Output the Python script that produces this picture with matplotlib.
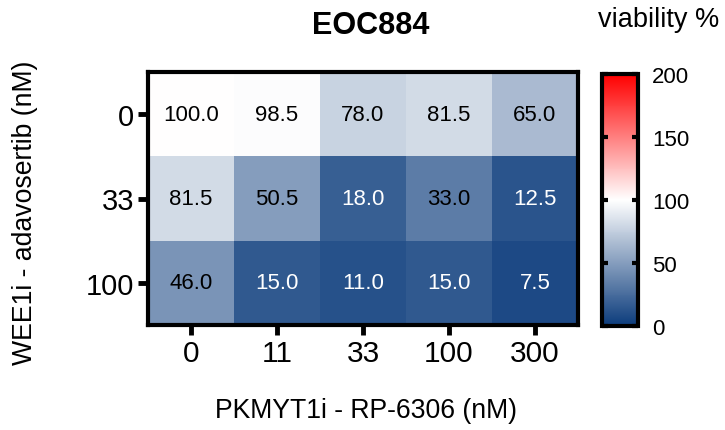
import matplotlib
matplotlib.use("Agg")
import matplotlib.pyplot as plt
import numpy as np
from matplotlib.colors import LinearSegmentedColormap

plt.rcParams['font.family'] = ['Liberation Sans', 'DejaVu Sans']

title = "EOC884"
x_labels = ["0", "11", "33", "100", "300"]
y_labels = ["0", "33", "100"]
values = np.array([
    [100.0, 98.5, 78.0, 81.5, 65.0],
    [81.5, 50.5, 18.0, 33.0, 12.5],
    [46.0, 15.0, 11.0, 15.0, 7.5],
])
cbar_ticks = [0, 50, 100, 150, 200]

cmap = LinearSegmentedColormap.from_list("bwr_prism", ["#0c3c7c", "#ffffff", "#ff0000"])

fig = plt.figure(figsize=(7.25, 4.31), dpi=100)
ax = fig.add_axes([148/725, 1-326/431, (578-148)/725, (326-73)/431])
im = ax.imshow(values, cmap=cmap, vmin=0, vmax=200, aspect='auto')

for i in range(values.shape[0]):
    for j in range(values.shape[1]):
        v = values[i, j]
        ax.text(j, i, f"{v:.1f}", ha='center', va='center', fontsize=16,
                color='white' if v < 25 else 'black')

ax.set_xticks(range(len(x_labels)))
ax.set_xticklabels(x_labels, fontsize=21.5)
ax.set_yticks(range(len(y_labels)))
ax.set_yticklabels(y_labels, fontsize=21)
ax.tick_params(axis='both', length=7, width=3.5, color='black', pad=3)
for s in ax.spines.values():
    s.set_linewidth(3)

fig.text(371/725, 1-26/431, title, ha='center', va='center', fontsize=22, fontweight='bold')
fig.text(366/725, 1-411/431, "PKMYT1i - RP-6306 (nM)", ha='center', va='center', fontsize=19.2)
fig.text(25/725, 1-213/431, "WEE1i - adavosertib (nM)", ha='center', va='center',
         rotation=90, fontsize=19.2)

cax = fig.add_axes([602/725, 1-327/431, (638-602)/725, (327-75)/431])
cb = fig.colorbar(im, cax=cax, ticks=cbar_ticks)
cb.outline.set_linewidth(3)
cax.tick_params(length=4, width=3, direction='in', labelsize=16, pad=10)
cax.yaxis.set_tick_params(which='both', left=True, right=True)
fig.text(659/725, 1-20/431, "viability %", ha='center', va='center', fontsize=19.5)

fig.savefig("out.png", dpi=100)
